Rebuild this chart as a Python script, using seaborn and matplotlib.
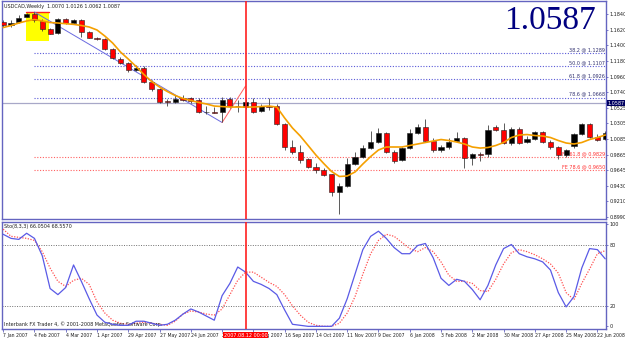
import numpy as np
import pandas as pd
import matplotlib
matplotlib.use("Agg")
import matplotlib.pyplot as plt
import matplotlib.transforms as mtransforms
from matplotlib.patches import Rectangle
import seaborn as sns

# ---------------- data ----------------
opens = [1.1728, 1.1679, 1.1728, 1.1805, 1.1840, 1.1749, 1.1629, 1.1573, 1.1770, 1.1714,
         1.1756, 1.1587, 1.1510, 1.1496, 1.1349, 1.1215, 1.1152, 1.1054, 1.1089, 1.0885,
         1.0787, 1.0612, 1.0605, 1.0654, 1.0661, 1.0633, 1.0471, 1.0464, 1.0464, 1.0640,
         1.0555, 1.0534, 1.0605, 1.0478, 1.0548, 1.0548, 1.0296, 0.9973, 0.9903, 0.9804,
         0.9699, 0.9657, 0.9587, 0.9341, 0.9425, 0.9734, 0.9832, 0.9958, 1.0043, 1.0169,
         0.9903, 0.9790, 0.9958, 1.0169, 1.0254, 1.0057, 0.9931, 0.9973, 1.0057, 1.0099,
         0.9818, 0.9874, 0.9874, 1.0254, 1.0211, 1.0029, 1.0226, 1.0043, 1.0085, 1.0183,
         1.0043, 0.9973, 0.9860, 0.9987, 1.0155, 1.0296, 1.0113, 1.0085]
highs = [1.1756, 1.1756, 1.1826, 1.1854, 1.1868, 1.1770, 1.1644, 1.1784, 1.1784, 1.1770,
         1.1770, 1.1601, 1.1524, 1.1503, 1.1363, 1.1236, 1.1166, 1.1124, 1.1110, 1.0913,
         1.0801, 1.0647, 1.0703, 1.0703, 1.0675, 1.0661, 1.0548, 1.0534, 1.0675, 1.0675,
         1.0633, 1.0647, 1.0661, 1.0577, 1.0661, 1.0577, 1.0310, 1.0071, 1.0001, 0.9818,
         0.9748, 0.9678, 0.9594, 0.9467, 0.9818, 0.9903, 1.0001, 1.0198, 1.0240, 1.0183,
         0.9931, 0.9973, 1.0226, 1.0296, 1.0366, 1.0099, 1.0001, 1.0099, 1.0183, 1.0113,
         0.9888, 0.9903, 1.0282, 1.0282, 1.0310, 1.0254, 1.0254, 1.0127, 1.0198, 1.0198,
         1.0071, 0.9987, 0.9944, 1.0169, 1.0310, 1.0310, 1.0155, 1.0198]
lows = [1.1658, 1.1658, 1.1714, 1.1798, 1.1728, 1.1601, 1.1559, 1.1559, 1.1700, 1.1700,
        1.1517, 1.1503, 1.1482, 1.1335, 1.1208, 1.1138, 1.1026, 1.1040, 1.0871, 1.0759,
        1.0591, 1.0548, 1.0591, 1.0619, 1.0591, 1.0450, 1.0436, 1.0450, 1.0317, 1.0520,
        1.0464, 1.0506, 1.0450, 1.0464, 1.0492, 1.0282, 0.9931, 0.9874, 0.9748, 0.9678,
        0.9608, 0.9566, 0.9285, 0.9032, 0.9411, 0.9720, 0.9818, 0.9944, 1.0029, 0.9888,
        0.9748, 0.9776, 0.9944, 1.0155, 1.0043, 0.9903, 0.9903, 0.9944, 1.0043, 0.9678,
        0.9720, 0.9776, 0.9832, 1.0198, 1.0015, 1.0001, 1.0015, 1.0029, 1.0071, 1.0029,
        0.9944, 0.9804, 0.9832, 0.9958, 1.0141, 1.0099, 1.0057, 1.0071]
closes = [1.1686, 1.1721, 1.1784, 1.1840, 1.1756, 1.1629, 1.1566, 1.1770, 1.1714, 1.1756,
          1.1587, 1.1510, 1.1496, 1.1349, 1.1222, 1.1159, 1.1054, 1.1089, 1.0885, 1.0787,
          1.0605, 1.0605, 1.0647, 1.0633, 1.0612, 1.0464, 1.0464, 1.0457, 1.0633, 1.0548,
          1.0548, 1.0605, 1.0471, 1.0548, 1.0541, 1.0296, 0.9973, 0.9903, 0.9790, 0.9692,
          0.9650, 0.9580, 0.9341, 0.9425, 0.9734, 0.9832, 0.9958, 1.0043, 1.0169, 0.9903,
          0.9776, 0.9958, 1.0169, 1.0254, 1.0057, 0.9931, 0.9973, 1.0043, 1.0099, 0.9818,
          0.9874, 0.9860, 1.0211, 1.0211, 1.0029, 1.0226, 1.0029, 1.0085, 1.0183, 1.0043,
          0.9973, 0.9860, 0.9931, 1.0155, 1.0296, 1.0113, 1.0071, 1.0169]
moving_avg = [1.1650, 1.1679, 1.1714, 1.1742, 1.1763, 1.1742, 1.1721, 1.1714, 1.1704, 1.1695,
              1.1679, 1.1658, 1.1616, 1.1531, 1.1433, 1.1307, 1.1208, 1.1103, 1.0991, 1.0892,
              1.0815, 1.0752, 1.0696, 1.0654, 1.0626, 1.0598, 1.0577, 1.0548, 1.0541, 1.0534,
              1.0534, 1.0534, 1.0534, 1.0541, 1.0548, 1.0534, 1.0380, 1.0240, 1.0127, 0.9994,
              0.9860, 0.9741, 0.9629, 0.9559, 0.9566, 0.9622, 0.9734, 0.9839, 0.9931, 0.9973,
              0.9973, 0.9973, 0.9994, 1.0015, 1.0036, 1.0057, 1.0078, 1.0064, 1.0043, 1.0015,
              0.9973, 0.9958, 0.9966, 0.9994, 1.0036, 1.0106, 1.0141, 1.0148, 1.0134, 1.0127,
              1.0106, 1.0064, 1.0029, 1.0015, 1.0036, 1.0078, 1.0106, 1.0141]
stoch_k = [90, 86, 85, 91, 86, 69, 37, 31, 38, 60, 44, 27, 11, 4, 2, 1, 1, 5, 5, 3,
           1, 2, 6, 12, 17, 14, 10, 6, 30, 42, 58, 53, 44, 41, 37, 31, 16, 2, 1, 0,
           0, 0, 0, 8, 27, 51, 75, 88, 93, 86, 77, 71, 71, 79, 81, 67, 47, 40, 46, 44,
           36, 26, 40, 60, 76, 80, 71, 68, 66, 63, 55, 33, 19, 29, 57, 76, 75, 66]
stoch_d = [95, 88, 87, 86, 84, 73, 57, 44, 39, 45, 47, 41, 24, 13, 6, 3, 2, 3, 4, 3,
           2, 1, 5, 12, 15, 14, 12, 11, 17, 31, 45, 53, 53, 48, 43, 39, 31, 20, 11, 4,
           1, 0, 0, 3, 13, 29, 51, 71, 84, 90, 88, 82, 76, 73, 77, 73, 63, 50, 44, 44,
           42, 35, 34, 46, 61, 72, 75, 73, 70, 66, 61, 52, 33, 26, 42, 56, 71, 74]
date_labels = ["7 Jan 2007", "4 Feb 2007", "4 Mar 2007", "1 Apr 2007", "29 Apr 2007",
               "27 May 2007", "24 Jun 2007", "22 Jul 2007", "19 Aug 2007", "16 Sep 2007",
               "14 Oct 2007", "11 Nov 2007", "9 Dec 2007", "6 Jan 2008", "3 Feb 2008",
               "2 Mar 2008", "30 Mar 2008", "27 Apr 2008", "25 May 2008", "22 Jun 2008"]
price_ticks = [1.1840, 1.1620, 1.1400, 1.1180, 1.0960, 1.0740, 1.0525, 1.0305, 1.0085,
               0.9865, 0.9645, 0.9430, 0.9210, 0.8990]
stoch_ticks = [0, 20, 80, 100]
fib_names = ["38.2", "50.0", "61.8", "78.6"]
fib_levels = [1.1289, 1.1107, 1.0926, 1.0668]
fe_names = ["FE 61.8", "FE 78.6"]
fe_levels = [0.9829, 0.9650]
current_price = 1.0587
marker_label = "2007.08.12 00:00"
title_text = "USDCAD,Weekly  1.0070 1.0126 1.0062 1.0087"
stoch_title = "Sto(8,3,3) 66.0504 68.5570"
footer = "Interbank FX Trader 4, \u00a9 2001-2008 MetaQuotes Software Corp."

# ---------------- figure ----------------
sns.set_theme(style="white")
plt.rcParams['font.family'] = ['DejaVu Sans']

SMALL = 3.5
W, H = 625, 338
fig = plt.figure(figsize=(6.25, 3.38), dpi=100)
fig.patch.set_facecolor("white")

def px_axes(l, t, r, b):
    return fig.add_axes([l / W, 1 - b / H, (r - l) / W, (b - t) / H])

ax = px_axes(2, 1, 606, 219)
ax2 = px_axes(2, 222, 606, 329)

border = "#6464c0"
for a in (ax, ax2):
    a.set_facecolor("white")
    for s in a.spines.values():
        s.set_color(border)
        s.set_linewidth(1.0)
    a.set_xlim(-0.15, 77.1)
    a.yaxis.tick_right()
    a.tick_params(axis="y", which="both", direction="out", length=1.5, width=0.6,
                  color=border, labelsize=SMALL, pad=0.8, labelcolor="#202020", right=True, left=False)

df = pd.DataFrame({"idx": np.arange(len(opens)), "open": opens, "high": highs,
                   "low": lows, "close": closes, "ma": moving_avg,
                   "k": stoch_k, "d": stoch_d})
n = len(df)

ax.set_ylim(0.8962, 1.2023)
ax2.set_ylim(-2.6, 102)

# highlight rectangle around the top
ax.add_patch(Rectangle((2.87, 1.1465), 2.98, 0.0393, facecolor="#ffff00", edgecolor="none", zorder=1))
ax.plot([2.87, 5.85], [1.1863, 1.1863], color="#ff2020", lw=1.0, zorder=2)

bt = mtransforms.blended_transform_factory(ax.transAxes, ax.transData)

# fib lines
for name, lv in zip(fib_names, fib_levels):
    ax.plot([4, 77.1], [lv, lv], color="#5a5ad8", lw=0.8, ls=(0, (1, 1.5)), zorder=1)
    ax.text(0.998, lv + 0.0010, f"{name} @ {lv:.4f}", transform=bt,
            ha="right", va="bottom", fontsize=SMALL, color="#303070", zorder=3)
for name, lv in zip(fe_names, fe_levels):
    ax.plot([4, 77.1], [lv, lv], color="#ff6060", lw=0.8, ls=(0, (1, 1.5)), zorder=1)
    ax.text(0.998, lv + 0.0010, f"{name} @ {lv:.4f}", transform=bt,
            ha="right", va="bottom", fontsize=SMALL, color="#ff3030", zorder=3)

# current price line
ax.axhline(current_price, color="#a8a8c8", lw=0.9, zorder=1)

# trend lines (zigzag)
ax.plot([4, 28], [highs[4], lows[28]], color="#6a6ae0", lw=0.7, zorder=2)
ax.plot([28, 31], [lows[28], 1.0829], color="#ff6060", lw=0.7, zorder=2)

# candles
up = df["close"] >= df["open"]
colors = np.where(up, "black", "#ff0000")
ax.vlines(df["idx"], df["low"], df["high"], color="#404040", lw=0.6, zorder=3)
body_lo = np.minimum(df["open"], df["close"])
body_h = np.maximum(np.abs(df["close"] - df["open"]), 0.0004)
ax.bar(df["idx"], body_h, bottom=body_lo, width=0.66, color=colors,
       edgecolor="#202020", linewidth=0.4, zorder=4)

# moving average
sns.lineplot(data=df, x="idx", y="ma", ax=ax, color="#f5a000", lw=1.2, legend=False, zorder=5)

# vertical marker
ax.axvline(31, color="#ff2020", lw=1.2, zorder=6)
ax2.axvline(31, color="#ff2020", lw=1.2, zorder=6)

# stochastic
for lv in (20, 80):
    ax2.axhline(lv, color="#707070", lw=0.7, ls=(0, (1, 1.5)), zorder=1)
sns.lineplot(data=df, x="idx", y="k", ax=ax2, color="#5a5ae6", lw=0.9, legend=False, zorder=4)
sns.lineplot(data=df, x="idx", y="d", ax=ax2, color="#ff5050", lw=0.9, legend=False, zorder=3)
ax2.lines[-1].set_linestyle((0, (1, 1.2)))

# axes ticks/labels
ax.set_yticks(price_ticks)
ax.set_yticklabels([f"{v:.4f}" for v in price_ticks])
ax.set_xticks([])
ax.set_xlabel("")
ax.set_ylabel("")
ax2.set_yticks(stoch_ticks)
ax2.set_yticklabels([str(v) for v in stoch_ticks])
ax2.set_xticks(np.arange(0, n, 4))
ax2.set_xticklabels(date_labels, ha="left", fontsize=3.3, color="#202020")
ax2.tick_params(axis="x", direction="out", length=2, width=0.6, color=border, pad=1, bottom=True)
ax2.set_xlabel("")
ax2.set_ylabel("")

# price label box
ax.text(1.003, current_price, f"{current_price:.4f}", transform=bt, ha="left", va="center",
        fontsize=SMALL, color="white", zorder=10,
        bbox=dict(facecolor="#000060", edgecolor="none", pad=0.5), clip_on=False)

# date marker box
xt = mtransforms.blended_transform_factory(ax2.transData, ax2.transAxes)
ax2.text(31, -0.035, marker_label, transform=xt, ha="center", va="top", fontsize=SMALL,
         color="white", zorder=10, bbox=dict(facecolor="#ff0000", edgecolor="none", pad=0.6), clip_on=False)

# texts
ax.text(0.003, 0.985, title_text, transform=ax.transAxes, ha="left", va="top", fontsize=SMALL, color="#202020")
ax2.text(0.003, 0.985, stoch_title, transform=ax2.transAxes, ha="left", va="top", fontsize=SMALL, color="#202020")
ax2.text(0.003, 0.015, footer, transform=ax2.transAxes, ha="left", va="bottom", fontsize=SMALL, color="#202020")
fig.text(550 / W, 1 - 21 / H, f"{current_price:.4f}", ha="center", va="center", fontsize=24,
         family=["Liberation Serif"], color="#000080")

fig.savefig("out.png", dpi=100)
